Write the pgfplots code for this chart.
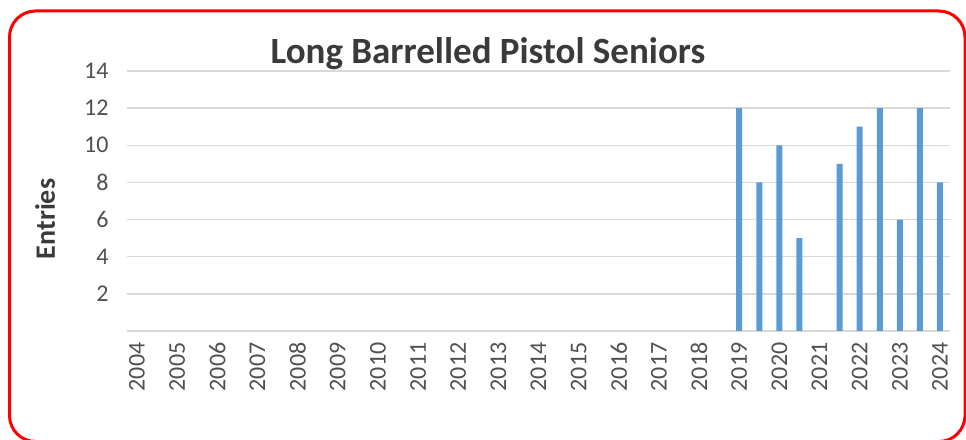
\documentclass[border=0pt]{standalone}
\usepackage{pgfplots}
\pgfplotsset{compat=1.18}
\usepackage{fontspec}
\setmainfont{Carlito}
\definecolor{barblue}{HTML}{5B9BD5}
\definecolor{gridgray}{HTML}{D9D9D9}
\definecolor{ticktext}{HTML}{505050}
\definecolor{titletext}{HTML}{3A3A3A}
\begin{document}
\begin{tikzpicture}
\useasboundingbox (0pt,0pt) rectangle (966pt,439pt);
\begin{scope}
\clip (0pt,0pt) rectangle (966pt,439pt);
\draw[red, line width=3pt, rounded corners=26pt] (9.5pt,-2.5pt) rectangle (965pt,428pt);
\end{scope}
\begin{axis}[
  at={(127pt,108pt)}, anchor=south west,
  scale only axis, width=823pt, height=260pt,
  xmin=2003.75, xmax=2024.25, ymin=0, ymax=14,
  ytick={0,2,4,6,8,10,12,14},
  yticklabels={,2,4,6,8,10,12,14},
  xtick={2004,2005,2006,2007,2008,2009,2010,2011,2012,2013,2014,2015,2016,2017,2018,2019,2020,2021,2022,2023,2024},
  xticklabels={2004,2005,2006,2007,2008,2009,2010,2011,2012,2013,2014,2015,2016,2017,2018,2019,2020,2021,2022,2023,2024},
  axis line style={draw=none},
  major tick length=0pt,
  ymajorgrids,
  major grid style={gridgray, line width=1.3pt},
  tick label style={font=\fontsize{24}{28}\selectfont, text=ticktext},
  yticklabel style={anchor=east, xshift=-15pt},
  xticklabel style={rotate=90, anchor=east, xshift=-8pt},
  title={Long Barrelled Pistol Seniors},
  title style={font=\bfseries\fontsize{37}{42}\selectfont, text=titletext, at={(axis description cs:0.4386,1.006)}, anchor=base},
  ylabel={Entries},
  ylabel style={font=\bfseries\fontsize{28}{32}\selectfont, text=titletext, at={(axis description cs:-0.0996,0.431)}, anchor=center, rotate=0},
  clip=false,
]
\addplot[ybar, bar width=6pt, fill=barblue, draw=none] coordinates {
  (2019,12) (2019.5,8) (2020,10) (2020.5,5) (2021,0) (2021.5,9)
  (2022,11) (2022.5,12) (2023,6) (2023.5,12) (2024,8)
};
\end{axis}
\end{tikzpicture}
\end{document}
